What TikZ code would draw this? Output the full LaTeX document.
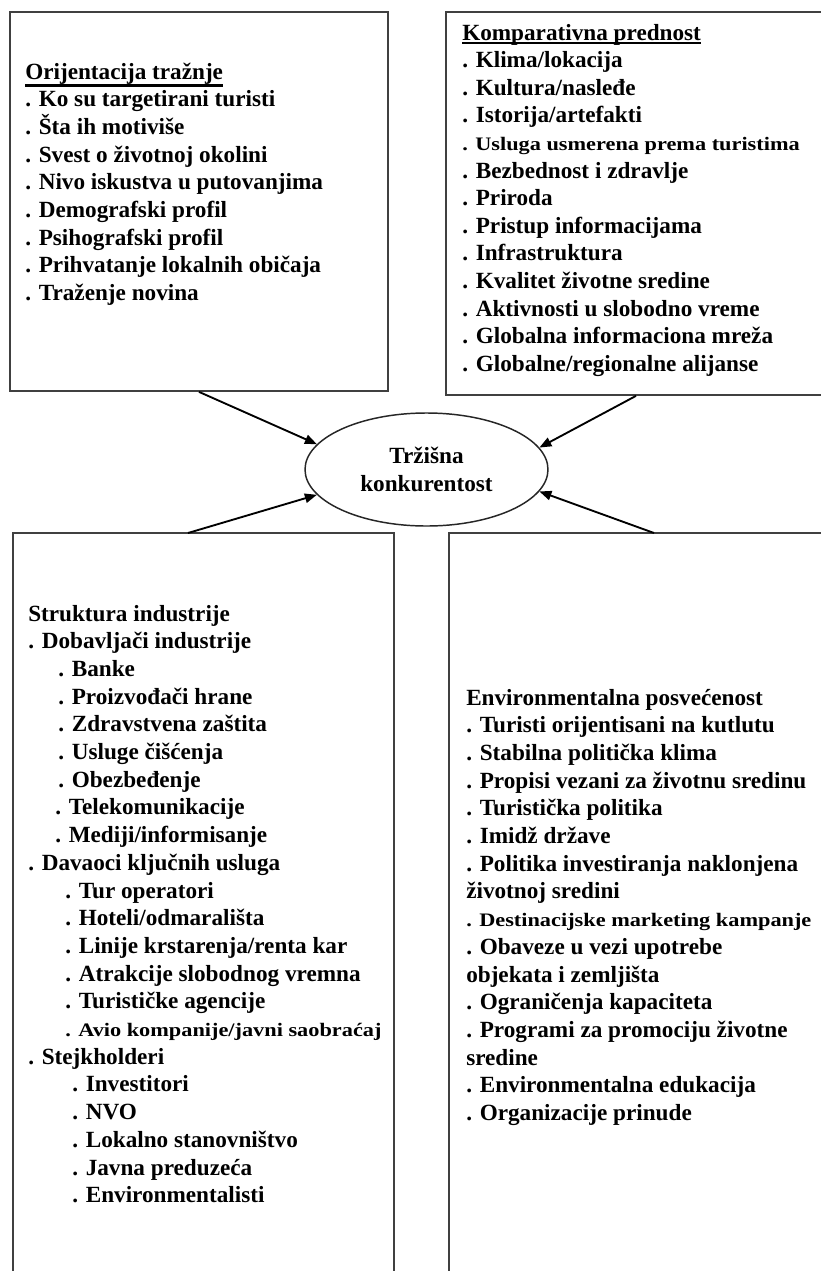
\documentclass[tikz,border=0pt]{standalone}
\usepackage{fontspec}
\setmainfont{Liberation Serif}
\usepackage{graphicx}
\usetikzlibrary{shapes.geometric,fit,arrows.meta}
\newcommand\itemfont{\fontsize{17.4}{20.8}\selectfont\bfseries}
\newcommand\smallitem[1]{{\fontsize{14.3}{17}\selectfont\bfseries\scalebox{1.17}[1]{#1}}}
\begin{document}
\begin{tikzpicture}[x=0.75pt,y=-0.75pt,
  box/.style={draw=black!75, line width=1.3pt, inner sep=0pt, rectangle},
  itm/.style={anchor=base west, inner sep=0pt, font=\itemfont},
  ellbox/.style={draw=black!85, line width=1.1pt, ellipse, inner sep=0pt,
    minimum width=182.25pt, minimum height=84.75pt, align=center, font=\itemfont},
  conn/.style={line width=1.4pt, -{Triangle[length=9pt,width=7pt]}},
  uline/.style={line width=1.8pt}]
\useasboundingbox (0,0) rectangle (821,1271);
\clip (0,0) rectangle (821,1271);
\fill[white] (0,0) rectangle (821,1271);
% boxes
\node[box, fit={(10,12) (388,391)}] (tl) {};
\node[box, fit={(446,12) (826,395)}] (tr) {};
\node[box, fit={(13,533) (394,1290)}] (bl) {};
\node[box, fit={(449,533) (860,1290)}] (br) {};
% ellipse
\node[ellbox] (ell) at (426.5,469.5) {Tržišna\\konkurentost};
% connectors
\coordinate (bls) at (188,533);
\coordinate (brs) at (654,533);
\draw[conn] (tl.south) -- (ell.167);
\draw[conn] (tr.south) -- (ell.11);
\draw[conn] (bls) -- (ell.193);
\draw[conn] (brs) -- (ell.349);
% top-left texts
\foreach \t [count=\i] in {{Orijentacija tražnje},{. Ko su targetirani turisti},{. Šta ih motiviše},
  {. Svest o životnoj okolini},{. Nivo iskustva u putovanjima},{. Demografski profil},
  {. Psihografski profil},{. Prihvatanje lokalnih običaja},{. Traženje novina}}
  \node[itm] (tl-\i) at (25,{79+27.7*(\i-1)}) {\t};
\draw[uline] ([yshift=-4.9pt]tl-1.base west) -- ([yshift=-4.9pt]tl-1.base east);
% top-right texts
\foreach \t [count=\i] in {{Komparativna prednost},{. Klima/lokacija},{. Kultura/nasleđe},
  {. Istorija/artefakti},{\smallitem{. Usluga usmerena prema turistima}},{. Bezbednost i zdravlje},
  {. Priroda},{. Pristup informacijama},{. Infrastruktura},{. Kvalitet životne sredine},
  {. Aktivnosti u slobodno vreme},{. Globalna informaciona mreža},{. Globalne/regionalne alijanse}}
  \node[itm] (tr-\i) at (462,{40+27.6*(\i-1)}) {\t};
\draw[uline] ([yshift=-2.4pt]tr-1.base west) -- ([yshift=-2.4pt]tr-1.base east);
% bottom-left texts
\foreach \x/\t [count=\i] in {28/{Struktura industrije},28/{. Dobavljači industrije},
  58/{. Banke},58/{. Proizvođači hrane},58/{. Zdravstvena zaštita},58/{. Usluge čišćenja},
  58/{. Obezbeđenje},55/{. Telekomunikacije},55/{. Mediji/informisanje},
  28/{. Davaoci ključnih usluga},65/{. Tur operatori},65/{. Hoteli/odmarališta},
  65/{. Linije krstarenja/renta kar},65/{. Atrakcije slobodnog vremna},65/{. Turističke agencije},
  65/{\smallitem{. Avio kompanije/javni saobraćaj}},28/{. Stejkholderi},72/{. Investitori},
  72/{. NVO},72/{. Lokalno stanovništvo},72/{. Javna preduzeća},72/{. Environmentalisti}}
  \node[itm] (bl-\i) at (\x,{621+27.7*(\i-1)}) {\t};
% bottom-right texts
\foreach \t [count=\i] in {{Environmentalna posvećenost},{. Turisti orijentisani na kutlutu},
  {. Stabilna politička klima},{. Propisi vezani za životnu sredinu},{. Turistička politika},
  {. Imidž države},{. Politika investiranja naklonjena},{životnoj sredini},
  {\smallitem{. Destinacijske marketing kampanje}},{. Obaveze u vezi upotrebe},
  {objekata i zemljišta},{. Ograničenja kapaciteta},{. Programi za promociju životne},
  {sredine},{. Environmentalna edukacija},{. Organizacije prinude}}
  \node[itm] (br-\i) at (466,{705+27.7*(\i-1)}) {\t};
\end{tikzpicture}
\end{document}
